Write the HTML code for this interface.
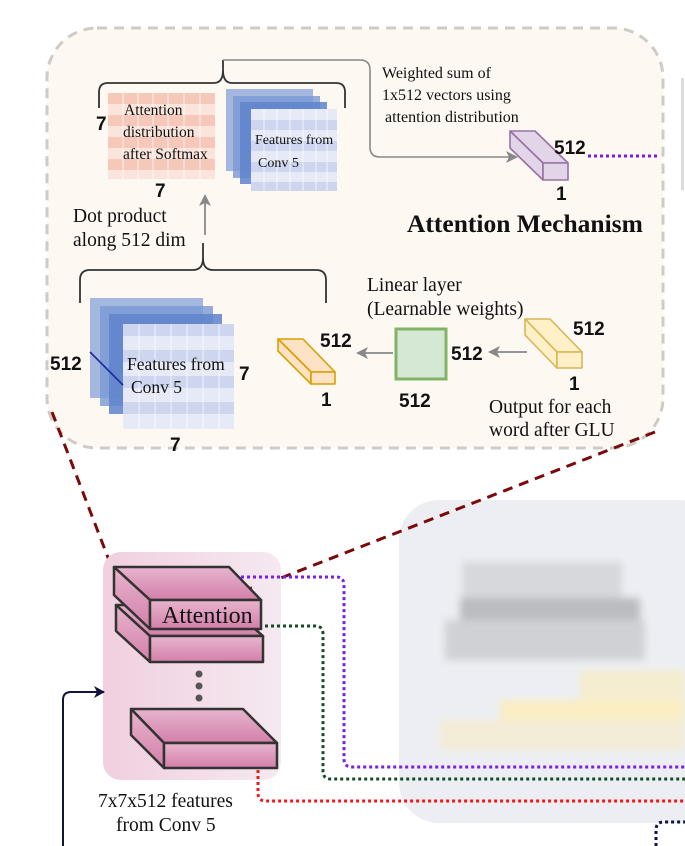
<!DOCTYPE html>
<html><head><meta charset="utf-8"><style>
html,body{margin:0;padding:0;background:#fff;}
svg{display:block;}
.s{font-family:"Liberation Serif",serif;fill:#111;}
.b{font-family:"Liberation Sans",sans-serif;font-weight:bold;fill:#111;font-size:19px;}
</style></head><body>
<svg width="685" height="846" viewBox="0 0 685 846" xmlns="http://www.w3.org/2000/svg">
<defs>
<marker id="ag" markerWidth="12" markerHeight="12" refX="10" refY="6" orient="auto" markerUnits="userSpaceOnUse"><path d="M0,0 L12,6 L0,12 L3,6 z" fill="#888"/></marker>
<marker id="an" markerWidth="12" markerHeight="12" refX="10" refY="6" orient="auto" markerUnits="userSpaceOnUse"><path d="M0,0 L11,6 L0,12 L3,6 z" fill="#10143f"/></marker>
<linearGradient id="pk" x1="0" y1="0" x2="0" y2="1"><stop offset="0" stop-color="#e6b5cd"/><stop offset="1" stop-color="#d47fa9"/></linearGradient>
<linearGradient id="pkbg" x1="0" y1="0" x2="1" y2="0"><stop offset="0" stop-color="#f1cfdf"/><stop offset="1" stop-color="#f5e9f0"/></linearGradient>
<filter id="bl"><feGaussianBlur stdDeviation="4"/></filter>
</defs>

<rect x="47" y="28" width="616" height="420" rx="50" fill="#fdf8f2" stroke="#cfcbc6" stroke-width="3" stroke-dasharray="10,7"/>
<rect x="681" y="78" width="3" height="112" fill="#ddd"/>

<path d="M99,108 V92 Q99,83 108,83 H214 Q223,83 223,70 V60 M223,60 V70 Q223,83 232,83 H336 Q345,83 345,92 V108" fill="none" stroke="#333" stroke-width="1.8"/>
<path d="M223,60 H360 Q370,60 370,70 V147 Q370,157 380,157 H516" fill="none" stroke="#888" stroke-width="1.6" marker-end="url(#ag)"/>

<g>
<rect x="108" y="93" width="107" height="86" fill="#fae4db"/>
<rect x="108" y="93" width="107" height="11" fill="#f5c8b9"/>
<rect x="108" y="115" width="107" height="11" fill="#f5c8b9"/>
<rect x="108" y="137" width="107" height="11" fill="#f5c8b9"/>
<rect x="108" y="159" width="107" height="11" fill="#f5c8b9"/>
<g stroke="#fff" stroke-width="1" opacity="0.7"><line x1="123" y1="93" x2="123" y2="179"/><line x1="138" y1="93" x2="138" y2="179"/><line x1="153" y1="93" x2="153" y2="179"/><line x1="168" y1="93" x2="168" y2="179"/><line x1="184" y1="93" x2="184" y2="179"/><line x1="200" y1="93" x2="200" y2="179"/></g>
</g>
<text class="s" x="124" y="115" font-size="15.5">Attention</text>
<text class="s" x="123" y="137" font-size="15.5">distribution</text>
<text class="s" x="123" y="159" font-size="15.5">after Softmax</text>
<text class="b" x="96" y="130">7</text>
<text class="b" x="155" y="197">7</text>

<rect x="226" y="89" width="87" height="82" fill="#86a2d8" opacity="0.75"/>
<rect x="233" y="96" width="87" height="82" fill="#7b98d4" opacity="0.8"/>
<rect x="240" y="102" width="87" height="82" fill="#5f83cc" opacity="0.85"/>
<g>
<rect x="251" y="109" width="86" height="82" fill="#e5eaf6"/>
<rect x="251" y="120" width="86" height="10" fill="#cdd6ee"/>
<rect x="251" y="141" width="86" height="10" fill="#cdd6ee"/>
<rect x="251" y="162" width="86" height="10" fill="#cdd6ee"/>
<rect x="251" y="182" width="86" height="9" fill="#cdd6ee"/>
<g stroke="#fff" stroke-width="1" opacity="0.7"><line x1="264" y1="109" x2="264" y2="191"/><line x1="277" y1="109" x2="277" y2="191"/><line x1="290" y1="109" x2="290" y2="191"/><line x1="303" y1="109" x2="303" y2="191"/><line x1="316" y1="109" x2="316" y2="191"/><line x1="327" y1="109" x2="327" y2="191"/></g>
</g>
<text class="s" x="255" y="144" font-size="14">Features from</text>
<text class="s" x="258" y="167" font-size="14">Conv 5</text>

<line x1="205" y1="235" x2="205" y2="196" stroke="#888" stroke-width="1.8" marker-end="url(#ag)"/>
<text class="s" x="73" y="222" font-size="19.5">Dot product</text>
<text class="s" x="73" y="246" font-size="19.5">along 512 dim</text>

<path d="M80,303 V280 Q80,270 90,270 H193 Q203,270 203,258 V243 M203,243 V258 Q203,270 213,270 H316 Q326,270 326,280 V303" fill="none" stroke="#333" stroke-width="1.8"/>

<rect x="90" y="298" width="113" height="100" fill="#86a2d8" opacity="0.75"/>
<rect x="100" y="306" width="113" height="100" fill="#7b98d4" opacity="0.8"/>
<rect x="109" y="314" width="113" height="100" fill="#5f83cc" opacity="0.85"/>
<g>
<rect x="123" y="324" width="111" height="105" fill="#e5eaf6"/>
<rect x="123" y="324" width="111" height="12" fill="#cdd6ee"/>
<rect x="123" y="350" width="111" height="12" fill="#cdd6ee"/>
<rect x="123" y="376" width="111" height="12" fill="#cdd6ee"/>
<rect x="123" y="402" width="111" height="12" fill="#cdd6ee"/>
<g stroke="#fff" stroke-width="1" opacity="0.7"><line x1="139" y1="324" x2="139" y2="429"/><line x1="155" y1="324" x2="155" y2="429"/><line x1="171" y1="324" x2="171" y2="429"/><line x1="187" y1="324" x2="187" y2="429"/><line x1="203" y1="324" x2="203" y2="429"/><line x1="219" y1="324" x2="219" y2="429"/></g>
</g>
<line x1="90" y1="352" x2="123" y2="385" stroke="#1a2a9a" stroke-width="1.6"/>
<text class="s" x="127" y="370" font-size="17.5">Features from</text>
<text class="s" x="131" y="393" font-size="17.5">Conv 5</text>
<text class="b" x="50" y="370">512</text>
<text class="b" x="239" y="380">7</text>
<text class="b" x="170" y="451">7</text>

<g fill="#fde2c5" stroke="#d9a000" stroke-width="1.6" stroke-linejoin="round">
<polygon points="278,339 303,339 335,372 311,372"/>
<polygon points="278,339 311,372 311,384 278,351"/>
<rect x="311" y="372" width="24" height="12"/>
</g>
<text class="b" x="320" y="347">512</text>
<text class="b" x="321" y="406">1</text>

<line x1="393" y1="353" x2="358" y2="353" stroke="#888" stroke-width="1.8" marker-end="url(#ag)"/>
<rect x="396" y="329" width="50" height="50" fill="#d5e8d4" stroke="#82b366" stroke-width="3"/>
<text class="b" x="451" y="360">512</text>
<text class="b" x="399" y="407">512</text>
<text class="s" x="367" y="291" font-size="19.5">Linear layer</text>
<text class="s" x="367" y="315" font-size="19.5">(Learnable weights)</text>

<line x1="527" y1="352" x2="490" y2="352" stroke="#888" stroke-width="1.8" marker-end="url(#ag)"/>
<g fill="#fff0c8" stroke="#d6b656" stroke-width="1.6" stroke-linejoin="round">
<polygon points="525,319 550,319 582,352 557,352"/>
<polygon points="525,319 557,352 557,368 525,335"/>
<rect x="557" y="352" width="25" height="16"/>
</g>
<text class="b" x="573" y="335">512</text>
<text class="b" x="569" y="390">1</text>
<text class="s" x="489" y="413" font-size="19.5">Output for each</text>
<text class="s" x="489" y="436" font-size="19.5">word after GLU</text>

<g fill="#e1d5e7" stroke="#9673a6" stroke-width="1.6" stroke-linejoin="round">
<polygon points="510,131 535,131 568,163 543,163"/>
<polygon points="510,131 543,163 543,180 510,148"/>
<rect x="543" y="163" width="25" height="17"/>
</g>
<text class="b" x="554" y="154">512</text>
<text class="b" x="556" y="200">1</text>
<line x1="588" y1="156" x2="660" y2="156" stroke="#7a1ee0" stroke-width="3" stroke-dasharray="3,3"/>
<text class="s" x="382" y="78" font-size="16">Weighted sum  of</text>
<text class="s" x="382" y="100" font-size="16">1x512 vectors using</text>
<text class="s" x="385" y="122" font-size="16">attention distribution</text>
<text class="s" x="407" y="232" font-size="25.5" font-weight="bold">Attention Mechanism</text>

<rect x="399" y="500" width="320" height="323" rx="40" fill="#eceef3"/>
<g filter="url(#bl)">
<rect x="462" y="562" width="160" height="36" fill="#d6d8dc"/>
<rect x="460" y="598" width="180" height="22" fill="#babcc0"/>
<rect x="445" y="620" width="200" height="40" fill="#cfd1d5"/>
<rect x="580" y="670" width="105" height="40" fill="#f5edd0"/>
<rect x="500" y="700" width="185" height="40" fill="#fbeec3"/>
<rect x="440" y="720" width="245" height="30" fill="#f3ecd6"/>
</g>

<line x1="52" y1="412" x2="112" y2="568" stroke="#7a0a0a" stroke-width="3" stroke-dasharray="10,7"/>
<line x1="655" y1="432" x2="250" y2="590" stroke="#7a0a0a" stroke-width="3" stroke-dasharray="10,7"/>

<rect x="103" y="552" width="178" height="228" rx="18" fill="url(#pkbg)"/>
<line x1="230" y1="593" x2="252" y2="588" stroke="#7a0a0a" stroke-width="3"/>

<g stroke="#333" stroke-width="2.5" stroke-linejoin="round" fill="url(#pk)">
<polygon points="116,605 228,605 263,636 150,636"/>
<polygon points="116,605 150,636 150,662 116,631"/>
<rect x="150" y="636" width="113" height="26"/>
<polygon points="114,567 229,567 261,600 150,600"/>
<polygon points="114,567 150,600 150,629 114,595"/>
<rect x="150" y="600" width="111" height="29"/>
<polygon points="131,709 243,709 277,743 164,743"/>
<polygon points="131,709 164,743 164,768 131,735"/>
<rect x="164" y="743" width="113" height="25"/>
</g>
<text class="s" x="162" y="623" font-size="24">Attention</text>
<circle cx="199" cy="674" r="3.5" fill="#555"/>
<circle cx="199" cy="686" r="3.5" fill="#555"/>
<circle cx="199" cy="698" r="3.5" fill="#555"/>
<text class="s" x="98" y="807" font-size="19.5">7x7x512 features</text>
<text class="s" x="116" y="831" font-size="19.5">from Conv 5</text>

<path d="M241,577 H336 Q344,577 344,585 V759 Q344,767 352,767 H685" fill="none" stroke="#7a1ee0" stroke-width="3" stroke-dasharray="3,3"/>
<path d="M265,626 H315 Q323,626 323,634 V771 Q323,779 331,779 H685" fill="none" stroke="#144d25" stroke-width="3" stroke-dasharray="3,3"/>
<path d="M258,770 V793 Q258,801 266,801 H685" fill="none" stroke="#f01818" stroke-width="3" stroke-dasharray="3,3"/>
<path d="M656,846 V830 Q656,822 664,822 H685" fill="none" stroke="#10143f" stroke-width="3" stroke-dasharray="3,3"/>
<path d="M63,846 V700 Q63,692 71,692 H104" fill="none" stroke="#10143f" stroke-width="2" marker-end="url(#an)"/>
</svg>
</body></html>
